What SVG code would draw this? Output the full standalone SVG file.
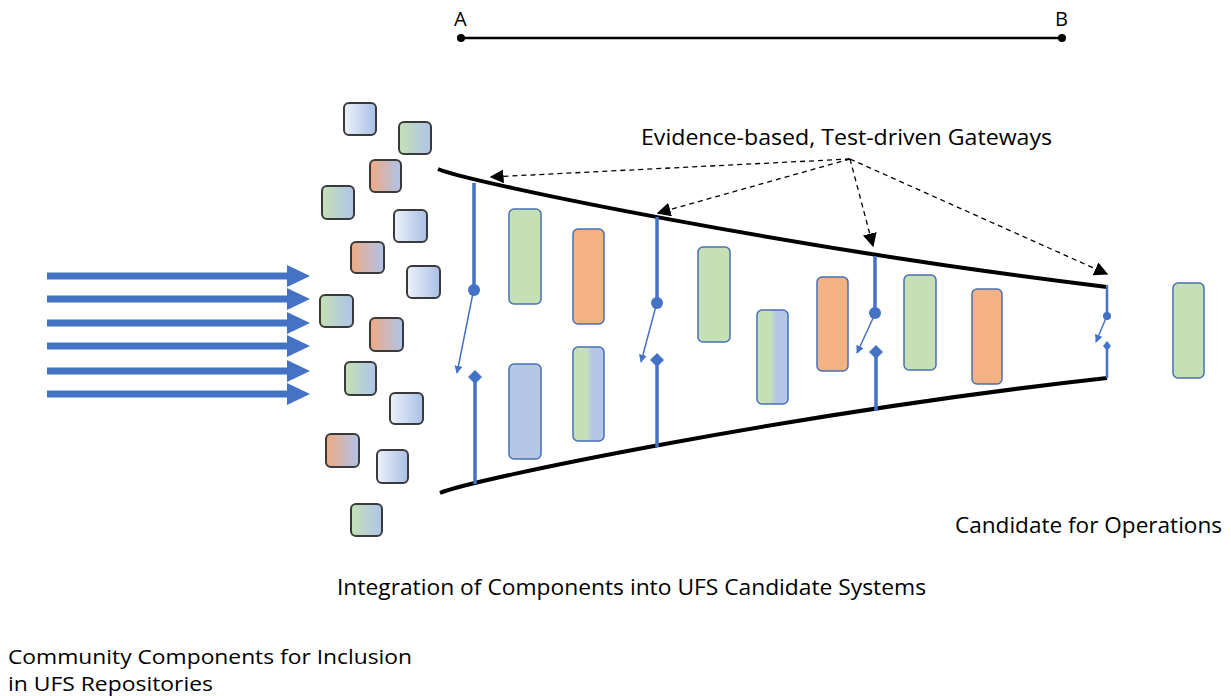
<svg xmlns="http://www.w3.org/2000/svg" width="1231" height="696" viewBox="0 0 1231 696">
<defs>
<linearGradient id="gBlue" x1="0" y1="0" x2="1" y2="0"><stop offset="0" stop-color="#eef2fa"/><stop offset="1" stop-color="#a8bfe5"/></linearGradient>
<linearGradient id="gGreen" x1="0" y1="0" x2="1" y2="0"><stop offset="0" stop-color="#c5e0b4"/><stop offset="1" stop-color="#aec4ea"/></linearGradient>
<linearGradient id="gOrange" x1="0" y1="0" x2="1" y2="0"><stop offset="0" stop-color="#f0a982"/><stop offset="1" stop-color="#aec4ea"/></linearGradient>
<linearGradient id="gSplit" x1="0" y1="0" x2="1" y2="0"><stop offset="0" stop-color="#c5e0b4"/><stop offset="0.45" stop-color="#c5e0b4"/><stop offset="0.6" stop-color="#b4c7e7"/><stop offset="1" stop-color="#b4c7e7"/></linearGradient>
<marker id="mBlack" viewBox="0 0 10 10" refX="9" refY="5" markerWidth="14" markerHeight="14" markerUnits="userSpaceOnUse" orient="auto"><path d="M0,0 L10,5 L0,10 z" fill="#000"/></marker>
<marker id="mBlue" viewBox="0 0 10 10" refX="9" refY="5" markerWidth="8" markerHeight="8" markerUnits="userSpaceOnUse" orient="auto"><path d="M0,0 L10,5 L0,10 z" fill="#4472c4"/></marker>
</defs>
<style>
.sq{stroke:#3a3a3a;stroke-width:2}
.bar{stroke:#4a6fb0;stroke-width:1.5}
.gate{stroke:#4472c4;stroke-width:3.5;fill:none}
.swing{stroke:#4472c4;stroke-width:1.5;fill:none}
.dash{stroke:#000;stroke-width:1.3;stroke-dasharray:5 4;fill:none}
.funnel{stroke:#000;stroke-width:4;fill:none}
text{font-family:"Open Sans","Liberation Sans",sans-serif;fill:#000}
</style>
<rect width="1231" height="696" fill="#fff"/>

<g id="scale">
<line x1="461" y1="38" x2="1062" y2="38" stroke="#000" stroke-width="2.5"/>
<circle cx="461" cy="38" r="4" fill="#000"/>
<circle cx="1062" cy="38" r="4" fill="#000"/>
<text x="454" y="26" font-size="20">A</text>
<text x="1055" y="26" font-size="20">B</text>
</g>

<g id="inputs" fill="#4472c4">
<g id="in1"><rect x="47" y="272.5" width="241" height="7"/><polygon points="287,265 310,276 287,287"/></g>
<g id="in2"><rect x="47" y="295.5" width="241" height="7"/><polygon points="287,288 310,299 287,310"/></g>
<g id="in3"><rect x="47" y="319.5" width="241" height="7"/><polygon points="287,312 310,323 287,334"/></g>
<g id="in4"><rect x="47" y="342.5" width="241" height="7"/><polygon points="287,335 310,346 287,357"/></g>
<g id="in5"><rect x="47" y="367.5" width="241" height="7"/><polygon points="287,360 310,371 287,382"/></g>
<g id="in6"><rect x="47" y="390.5" width="241" height="7"/><polygon points="287,383 310,394 287,405"/></g>
</g>

<g id="components">
<rect id="c1" class="sq" x="344" y="103" width="32" height="32" rx="5" fill="url(#gBlue)"/>
<rect id="c2" class="sq" x="399" y="122" width="32" height="32" rx="5" fill="url(#gGreen)"/>
<rect id="c3" class="sq" x="370" y="160" width="31" height="32" rx="5" fill="url(#gOrange)"/>
<rect id="c4" class="sq" x="322" y="186" width="32" height="33" rx="5" fill="url(#gGreen)"/>
<rect id="c5" class="sq" x="394" y="210" width="33" height="32" rx="5" fill="url(#gBlue)"/>
<rect id="c6" class="sq" x="351" y="242" width="33" height="31" rx="5" fill="url(#gOrange)"/>
<rect id="c7" class="sq" x="407" y="266" width="33" height="32" rx="5" fill="url(#gBlue)"/>
<rect id="c8" class="sq" x="320" y="295" width="33" height="32" rx="5" fill="url(#gGreen)"/>
<rect id="c9" class="sq" x="370" y="318" width="33" height="33" rx="5" fill="url(#gOrange)"/>
<rect id="c10" class="sq" x="345" y="362" width="31" height="33" rx="5" fill="url(#gGreen)"/>
<rect id="c11" class="sq" x="390" y="393" width="33" height="31" rx="5" fill="url(#gBlue)"/>
<rect id="c12" class="sq" x="326" y="434" width="33" height="33" rx="5" fill="url(#gOrange)"/>
<rect id="c13" class="sq" x="377" y="450" width="31" height="33" rx="5" fill="url(#gBlue)"/>
<rect id="c14" class="sq" x="351" y="504" width="31" height="32" rx="5" fill="url(#gGreen)"/>
</g>

<g id="funnel">
<path class="funnel" d="M438,169 C470,183 800,250 1107,287"/>
<path class="funnel" d="M440,493 C472,479 800,412 1107,378"/>
</g>

<g id="systems">
<rect id="s1" class="bar" x="509" y="209" width="32" height="95" rx="5" fill="#c5e0b4"/>
<rect id="s2" class="bar" x="573" y="229" width="31" height="95" rx="5" fill="#f4b183"/>
<rect id="s3" class="bar" x="509" y="364" width="32" height="95" rx="5" fill="#b4c7e7"/>
<rect id="s4" class="bar" x="573" y="347" width="31" height="94" rx="5" fill="url(#gSplit)"/>
<rect id="s5" class="bar" x="698" y="247" width="32" height="95" rx="5" fill="#c5e0b4"/>
<rect id="s6" class="bar" x="757" y="310" width="31" height="94" rx="5" fill="url(#gSplit)"/>
<rect id="s7" class="bar" x="817" y="277" width="31" height="94" rx="5" fill="#f4b183"/>
<rect id="s8" class="bar" x="904" y="275" width="32" height="95" rx="5" fill="#c5e0b4"/>
<rect id="s9" class="bar" x="972" y="289" width="30" height="95" rx="5" fill="#f4b183"/>
<rect id="s10" class="bar" x="1173" y="283" width="31" height="95" rx="5" fill="#c5e0b4"/>
</g>

<g id="gateway1">
<line class="gate" x1="474" y1="183" x2="474" y2="290"/>
<circle cx="474" cy="290" r="6" fill="#4472c4"/>
<line class="swing" x1="473" y1="293" x2="457" y2="373" marker-end="url(#mBlue)"/>
<line class="gate" x1="475" y1="380" x2="475" y2="484"/>
<polygon points="475,370 482,377 475,384 468,377" fill="#4472c4"/>
</g>
<g id="gateway2">
<line class="gate" x1="657" y1="217" x2="657" y2="303"/>
<circle cx="657" cy="303" r="6" fill="#4472c4"/>
<line class="swing" x1="656" y1="306" x2="641" y2="362" marker-end="url(#mBlue)"/>
<line class="gate" x1="657" y1="362" x2="657" y2="447"/>
<polygon points="657,353 664,360 657,367 650,360" fill="#4472c4"/>
</g>
<g id="gateway3">
<line class="gate" x1="875" y1="256" x2="875" y2="313"/>
<circle cx="875" cy="313" r="6" fill="#4472c4"/>
<line class="swing" x1="874" y1="316" x2="857" y2="353" marker-end="url(#mBlue)"/>
<line class="gate" x1="876" y1="353" x2="876" y2="411"/>
<polygon points="876,345 883,352 876,359 869,352" fill="#4472c4"/>
</g>
<g id="gateway4">
<line x1="1107" y1="285" x2="1107" y2="316" stroke="#4472c4" stroke-width="2.5"/>
<circle cx="1107" cy="316" r="4" fill="#4472c4"/>
<line class="swing" x1="1106" y1="318" x2="1096" y2="342" marker-end="url(#mBlue)"/>
<line x1="1107" y1="346" x2="1107" y2="378" stroke="#4472c4" stroke-width="2.5"/>
<polygon points="1107,341 1111,346 1107,351 1103,346" fill="#4472c4"/>
</g>

<g id="connectors">
<line class="dash" x1="850" y1="159" x2="491" y2="177" marker-end="url(#mBlack)"/>
<line class="dash" x1="850" y1="159" x2="658" y2="213" marker-end="url(#mBlack)"/>
<line class="dash" x1="850" y1="159" x2="873" y2="246" marker-end="url(#mBlack)"/>
<line class="dash" x1="850" y1="159" x2="1107" y2="274" marker-end="url(#mBlack)"/>
</g>

<g id="labels">
<text x="641" y="145" font-size="21.5" textLength="411" lengthAdjust="spacingAndGlyphs">Evidence-based, Test-driven Gateways</text>
<text x="955" y="533" font-size="21.5" textLength="267" lengthAdjust="spacingAndGlyphs">Candidate for Operations</text>
<text x="337" y="595" font-size="21.5" textLength="589" lengthAdjust="spacingAndGlyphs">Integration of Components into UFS Candidate Systems</text>
<text x="8" y="664" font-size="19.5" textLength="404" lengthAdjust="spacingAndGlyphs">Community Components for Inclusion</text>
<text x="8" y="691" font-size="19.5" textLength="205" lengthAdjust="spacingAndGlyphs">in UFS Repositories</text>
</g>
</svg>
